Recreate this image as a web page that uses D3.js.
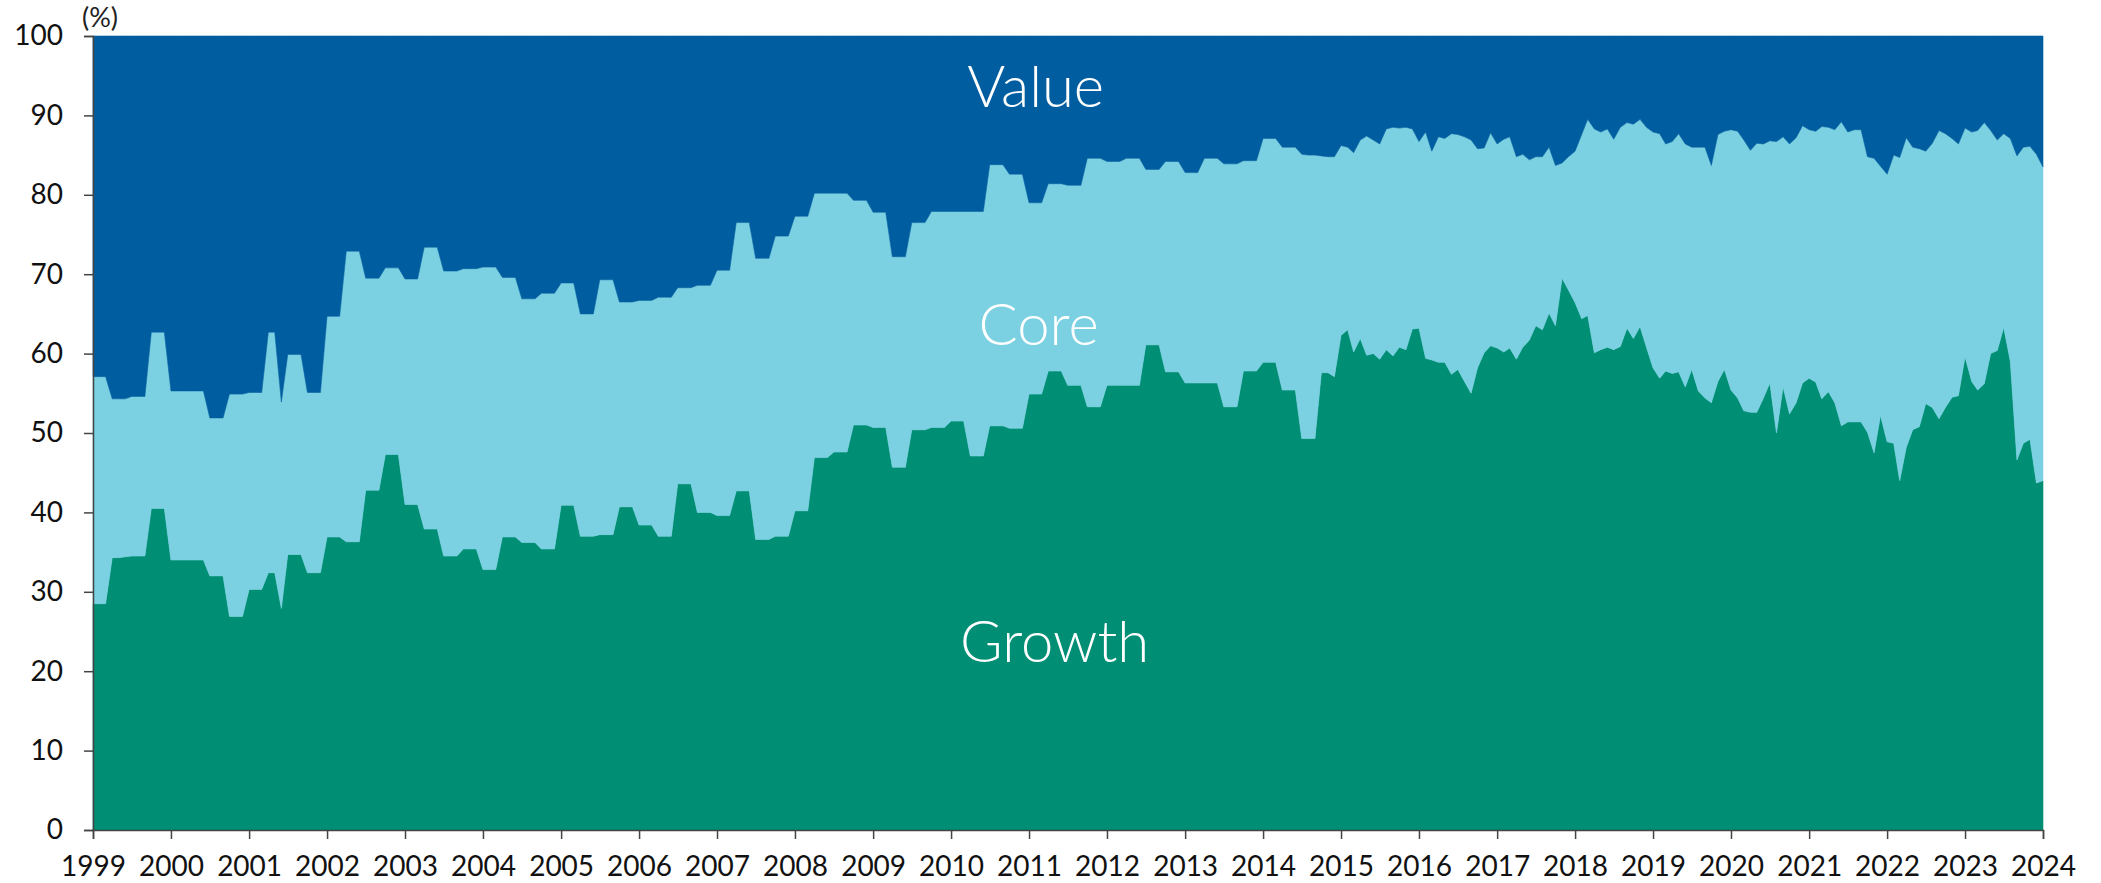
<!DOCTYPE html>
<html>
<head>
<meta charset="utf-8">
<script src="https://cdn.jsdelivr.net/npm/d3@7"></script>
<style>
  body { margin: 0; background: #fff; }
  svg text { font-family: Lato, 'Open Sans', sans-serif; }
</style>
</head>
<body>
<div id="chart"></div>
<script>
'use strict';

// monthly shares (%), Jan 1999 .. Jan 2024
const startMonth = new Date(1999, 0, 1);

const growth = [
  28.5, 28.5, 28.5, 34.3, 34.3, 34.4, 34.5, 34.5, 34.5, 40.5, 40.5, 40.5, // 1999
  34.0, 34.0, 34.0, 34.0, 34.0, 34.0, 32.0, 32.0, 32.0, 26.9, 26.9, 26.9, // 2000
  30.3, 30.3, 30.3, 32.4, 32.4, 27.9, 34.7, 34.7, 34.7, 32.4, 32.4, 32.4, // 2001
  36.9, 36.9, 36.9, 36.3, 36.3, 36.3, 42.8, 42.8, 42.8, 47.3, 47.3, 47.3, // 2002
  41.0, 41.0, 41.0, 37.9, 37.9, 37.9, 34.5, 34.5, 34.5, 35.4, 35.4, 35.4, // 2003
  32.8, 32.8, 32.8, 36.9, 36.9, 36.9, 36.2, 36.2, 36.2, 35.4, 35.4, 35.4, // 2004
  40.9, 40.9, 40.9, 37.0, 37.0, 37.0, 37.2, 37.2, 37.2, 40.7, 40.7, 40.7, // 2005
  38.4, 38.4, 38.4, 37.0, 37.0, 37.0, 43.6, 43.6, 43.6, 40.0, 40.0, 40.0, // 2006
  39.6, 39.6, 39.6, 42.7, 42.7, 42.7, 36.6, 36.6, 36.6, 37.0, 37.0, 37.0, // 2007
  40.2, 40.2, 40.2, 46.9, 46.9, 46.9, 47.6, 47.6, 47.6, 51.0, 51.0, 51.0, // 2008
  50.7, 50.7, 50.7, 45.7, 45.7, 45.7, 50.4, 50.4, 50.4, 50.7, 50.7, 50.7, // 2009
  51.5, 51.5, 51.5, 47.1, 47.1, 47.1, 50.9, 50.9, 50.9, 50.6, 50.6, 50.6, // 2010
  54.9, 54.9, 54.9, 57.8, 57.8, 57.8, 56.0, 56.0, 56.0, 53.3, 53.3, 53.3, // 2011
  56.0, 56.0, 56.0, 56.0, 56.0, 56.0, 61.1, 61.1, 61.1, 57.7, 57.7, 57.7, // 2012
  56.3, 56.3, 56.3, 56.3, 56.3, 56.3, 53.3, 53.3, 53.3, 57.8, 57.8, 57.8, // 2013
  58.9, 58.9, 58.9, 55.4, 55.4, 55.4, 49.3, 49.3, 49.3, 57.6, 57.6, 57.1, // 2014
  62.3, 63.0, 60.2, 61.9, 59.8, 60.0, 59.3, 60.5, 59.7, 60.8, 60.5, 63.1, // 2015
  63.2, 59.4, 59.2, 58.9, 58.9, 57.4, 58.0, 56.5, 55.0, 58.2, 60.1, 61.0, // 2016
  60.7, 60.2, 60.7, 59.3, 60.8, 61.7, 63.5, 63.0, 65.1, 63.5, 69.5, 68.0, // 2017
  66.4, 64.4, 64.8, 60.1, 60.5, 60.8, 60.5, 60.9, 63.2, 61.9, 63.4, 60.8, // 2018
  58.2, 56.9, 57.8, 57.5, 57.7, 55.8, 58.0, 55.3, 54.4, 53.8, 56.5, 58.0, // 2019
  55.4, 54.4, 52.8, 52.6, 52.6, 54.4, 56.3, 50.0, 55.8, 52.4, 53.8, 56.3, // 2020
  56.9, 56.4, 54.3, 55.2, 53.8, 50.9, 51.4, 51.4, 51.4, 50.1, 47.5, 52.2, // 2021
  48.9, 48.7, 44.0, 48.2, 50.4, 50.8, 53.7, 53.2, 51.8, 53.2, 54.5, 54.7, // 2022
  59.6, 56.5, 55.4, 56.2, 60.0, 60.4, 63.3, 59.0, 46.6, 48.7, 49.2, 43.7, // 2023
  44.0                                                                    // 2024
];

const value = [
  42.9, 42.9, 42.9, 45.7, 45.7, 45.7, 45.4, 45.4, 45.4, 37.3, 37.3, 37.3, // 1999
  44.7, 44.7, 44.7, 44.7, 44.7, 44.7, 48.1, 48.1, 48.1, 45.1, 45.1, 45.1, // 2000
  44.9, 44.9, 44.9, 37.3, 37.3, 46.1, 40.1, 40.1, 40.1, 44.9, 44.9, 44.9, // 2001
  35.3, 35.3, 35.3, 27.1, 27.1, 27.1, 30.5, 30.5, 30.5, 29.2, 29.2, 29.2, // 2002
  30.6, 30.6, 30.6, 26.6, 26.6, 26.6, 29.6, 29.6, 29.6, 29.3, 29.3, 29.3, // 2003
  29.1, 29.1, 29.1, 30.4, 30.4, 30.4, 33.1, 33.1, 33.1, 32.4, 32.4, 32.4, // 2004
  31.1, 31.1, 31.1, 35.0, 35.0, 35.0, 30.7, 30.7, 30.7, 33.5, 33.5, 33.5, // 2005
  33.3, 33.3, 33.3, 32.9, 32.9, 32.9, 31.7, 31.7, 31.7, 31.4, 31.4, 31.4, // 2006
  29.5, 29.5, 29.5, 23.5, 23.5, 23.5, 28.0, 28.0, 28.0, 25.2, 25.2, 25.2, // 2007
  22.7, 22.7, 22.7, 19.8, 19.8, 19.8, 19.8, 19.8, 19.8, 20.7, 20.7, 20.7, // 2008
  22.2, 22.2, 22.2, 27.8, 27.8, 27.8, 23.5, 23.5, 23.5, 22.1, 22.1, 22.1, // 2009
  22.1, 22.1, 22.1, 22.1, 22.1, 22.1, 16.2, 16.2, 16.2, 17.4, 17.4, 17.4, // 2010
  21.0, 21.0, 21.0, 18.6, 18.6, 18.6, 18.8, 18.8, 18.8, 15.4, 15.4, 15.4, // 2011
  15.8, 15.8, 15.8, 15.4, 15.4, 15.4, 16.8, 16.8, 16.8, 15.8, 15.8, 15.8, // 2012
  17.2, 17.2, 17.2, 15.4, 15.4, 15.4, 16.1, 16.1, 16.1, 15.7, 15.7, 15.7, // 2013
  12.9, 12.9, 12.9, 14.0, 14.0, 14.0, 14.9, 15.0, 15.0, 15.1, 15.2, 15.2, // 2014
  13.8, 14.0, 14.7, 13.1, 12.6, 13.1, 13.6, 11.7, 11.5, 11.6, 11.5, 11.7, // 2015
  13.3, 12.1, 14.5, 12.7, 12.9, 12.3, 12.4, 12.7, 13.1, 14.2, 14.1, 12.2, // 2016
  13.6, 13.0, 12.7, 15.2, 14.9, 15.6, 15.2, 15.2, 14.0, 16.3, 16.0, 15.2, // 2017
  14.5, 12.4, 10.5, 11.7, 12.1, 11.7, 13.0, 11.5, 10.9, 11.1, 10.5, 11.5, // 2018
  12.1, 12.3, 13.6, 13.3, 12.3, 13.6, 14.0, 14.0, 14.0, 16.3, 12.4, 12.0, // 2019
  11.8, 12.0, 13.1, 14.4, 13.5, 13.6, 13.2, 13.3, 12.7, 13.6, 12.8, 11.3, // 2020
  11.8, 12.0, 11.4, 11.5, 11.8, 10.8, 12.1, 11.8, 11.8, 15.2, 15.4, 16.4, // 2021
  17.4, 15.0, 15.3, 12.8, 14.0, 14.2, 14.5, 13.5, 11.9, 12.3, 12.9, 13.6, // 2022
  11.6, 12.1, 11.9, 10.9, 11.9, 13.1, 12.3, 12.9, 15.1, 14.0, 13.9, 14.9, // 2023
  16.5                                                                    // 2024
];

const seriesNames = ['Growth', 'Core', 'Value'];
const seriesColors = ['#008e74', '#7bd1e2', '#005ea0'];
const yearTicks = d3.range(1999, 2025);
const pctTicks = d3.range(0, 101, 10);

// core is whatever is left after growth and value
const rows = growth.map((g, i) => ({
  date: d3.timeMonth.offset(startMonth, i),
  Growth: g,
  Core: 100 - g - value[i],
  Value: value[i]
}));

const width = 2101, height = 883;
const margin = {top: 36, right: 58, bottom: 53, left: 93};

const svg = d3.select('#chart').append('svg')
  .attr('width', width)
  .attr('height', height);

const x = d3.scaleTime()
  .domain([new Date(1999, 0, 1), new Date(2024, 0, 1)])
  .range([margin.left, width - margin.right]);

const y = d3.scaleLinear()
  .domain([0, 100])
  .range([height - margin.bottom, margin.top]);

const stacked = d3.stack().keys(seriesNames)(rows);

const area = d3.area()
  .x(d => x(d.data.date))
  .y0(d => y(d[0]))
  .y1(d => y(d[1]));

svg.selectAll('path.layer')
  .data(stacked)
  .join('path')
  .classed('layer', true)
  .attr('d', area)
  .attr('fill', (d, i) => seriesColors[i])
  .attr('stroke', (d, i) => seriesColors[i])
  .attr('stroke-width', 0.6);

// axes
const yAxis = svg.append('g')
  .attr('transform', `translate(${margin.left},0)`)
  .call(d3.axisLeft(y).tickValues(pctTicks).tickSize(9).tickPadding(21));

const xAxis = svg.append('g')
  .attr('transform', `translate(0,${height - margin.bottom})`)
  .call(d3.axisBottom(x)
    .tickValues(yearTicks.map(yr => new Date(yr, 0, 1)))
    .tickFormat(d3.timeFormat('%Y'))
    .tickSize(9).tickPadding(17));

[yAxis, xAxis].forEach(g => {
  g.select('.domain').attr('stroke', '#444').attr('stroke-width', 1.5);
  g.selectAll('.tick line').attr('stroke', '#444').attr('stroke-width', 1.5);
  g.selectAll('.tick text').attr('fill', '#111').style('font-size', '28px');
});

svg.append('text')
  .attr('x', 82)
  .attr('y', 27)
  .attr('fill', '#222')
  .style('font-size', '27px')
  .text('(%)');

// series labels inside the areas
const labels = [
  {name: 'Value', date: new Date(2011, 1, 1), pct: 91.0},
  {name: 'Core', date: new Date(2011, 1, 15), pct: 61.1},
  {name: 'Growth', date: new Date(2011, 4, 1), pct: 21.2}
];

svg.selectAll('text.series')
  .data(labels)
  .join('text')
  .classed('series', true)
  .attr('x', d => x(d.date))
  .attr('y', d => y(d.pct))
  .attr('text-anchor', 'middle')
  .attr('fill', '#fff')
  .style('font-size', '58px')
  .style('font-weight', 300)
  .text(d => d.name);
</script>
</body>
</html>
